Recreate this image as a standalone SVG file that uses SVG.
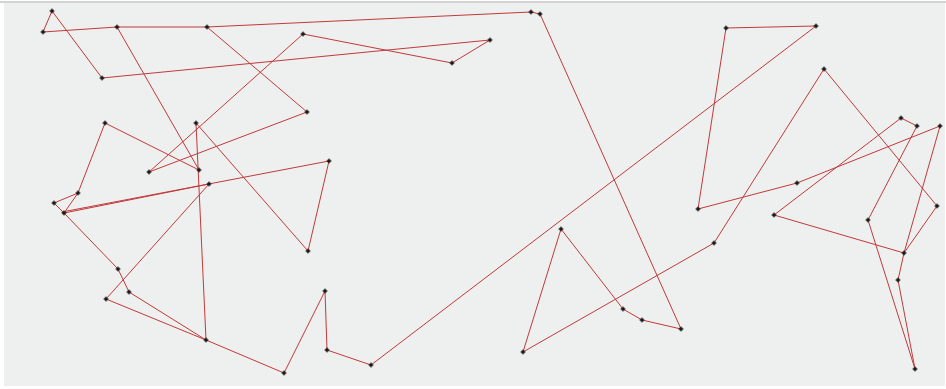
<svg xmlns="http://www.w3.org/2000/svg" width="946" height="389" viewBox="0 0 946 389">
<style>
.edge{fill:none;stroke:#c23a3a;stroke-width:1;stroke-linejoin:round;stroke-linecap:round}
.pt{fill:#1a1a1a}
</style>
<defs>
<g id="dot"><rect class="pt" x="-1.5" y="-1.5" width="3" height="3"/><path d="M-2.5 0H2.5M0 -2.5V2.5" stroke="#1a1a1a" stroke-width="1"/></g>
</defs>
<rect x="0" y="0" width="946" height="389" fill="#ffffff"/>
<rect x="4" y="3" width="941" height="383" fill="#eeefef"/>
<line x1="0" y1="2" x2="946" y2="2" stroke="#a8a8a8" stroke-width="1.2"/>
<g id="connectors">
<polyline class="edge" points="43,32 52,11 102,78 490,40 452,63 303,34 149,172 307,112 207,27"/>
<polyline class="edge" points="43,32 117,27 207,27 531,12 540,14 681,329 642,320 623,309 561,229 523,352 714,243 824,69 937,206 904,253 774,215 901,118 917,126 868,220 915,369 898,280 904,253 940,126 797,183 698,209 726,28 816,26 371,365 327,350 325,291 284,373 206,340 106,299 209,184 64,213 54,203 78,193 64,213 118,269 129,292 206,340 196,123 308,251 329,161 62,212"/>
<polyline class="edge" points="117,27 199,170 105,123 78,193"/>
</g>
<g id="nodes">
<g id="n1"><use href="#dot" x="52" y="11"/></g>
<g id="n2"><use href="#dot" x="43" y="32"/></g>
<g id="n3"><use href="#dot" x="117" y="27"/></g>
<g id="n4"><use href="#dot" x="207" y="27"/></g>
<g id="n5"><use href="#dot" x="102" y="78"/></g>
<g id="n6"><use href="#dot" x="303" y="34"/></g>
<g id="n7"><use href="#dot" x="490" y="40"/></g>
<g id="n8"><use href="#dot" x="452" y="63"/></g>
<g id="n9"><use href="#dot" x="531" y="12"/></g>
<g id="n10"><use href="#dot" x="540" y="14"/></g>
<g id="n11"><use href="#dot" x="307" y="112"/></g>
<g id="n12"><use href="#dot" x="105" y="123"/></g>
<g id="n13"><use href="#dot" x="196" y="123"/></g>
<g id="n14"><use href="#dot" x="149" y="172"/></g>
<g id="n15"><use href="#dot" x="199" y="170"/></g>
<g id="n16"><use href="#dot" x="209" y="184"/></g>
<g id="n17"><use href="#dot" x="329" y="161"/></g>
<g id="n18"><use href="#dot" x="78" y="193"/></g>
<g id="n19"><use href="#dot" x="54" y="203"/></g>
<g id="n20"><use href="#dot" x="64" y="213"/></g>
<g id="n21"><use href="#dot" x="308" y="251"/></g>
<g id="n22"><use href="#dot" x="118" y="269"/></g>
<g id="n23"><use href="#dot" x="129" y="292"/></g>
<g id="n24"><use href="#dot" x="106" y="299"/></g>
<g id="n25"><use href="#dot" x="206" y="340"/></g>
<g id="n26"><use href="#dot" x="284" y="373"/></g>
<g id="n27"><use href="#dot" x="325" y="291"/></g>
<g id="n28"><use href="#dot" x="327" y="350"/></g>
<g id="n29"><use href="#dot" x="371" y="365"/></g>
<g id="n30"><use href="#dot" x="816" y="26"/></g>
<g id="n31"><use href="#dot" x="726" y="28"/></g>
<g id="n32"><use href="#dot" x="698" y="209"/></g>
<g id="n33"><use href="#dot" x="797" y="183"/></g>
<g id="n34"><use href="#dot" x="940" y="126"/></g>
<g id="n35"><use href="#dot" x="904" y="253"/></g>
<g id="n36"><use href="#dot" x="898" y="280"/></g>
<g id="n37"><use href="#dot" x="915" y="369"/></g>
<g id="n38"><use href="#dot" x="868" y="220"/></g>
<g id="n39"><use href="#dot" x="917" y="126"/></g>
<g id="n40"><use href="#dot" x="901" y="118"/></g>
<g id="n41"><use href="#dot" x="774" y="215"/></g>
<g id="n42"><use href="#dot" x="937" y="206"/></g>
<g id="n43"><use href="#dot" x="824" y="69"/></g>
<g id="n44"><use href="#dot" x="714" y="243"/></g>
<g id="n45"><use href="#dot" x="523" y="352"/></g>
<g id="n46"><use href="#dot" x="561" y="229"/></g>
<g id="n47"><use href="#dot" x="623" y="309"/></g>
<g id="n48"><use href="#dot" x="642" y="320"/></g>
<g id="n49"><use href="#dot" x="681" y="329"/></g>
</g>
</svg>
